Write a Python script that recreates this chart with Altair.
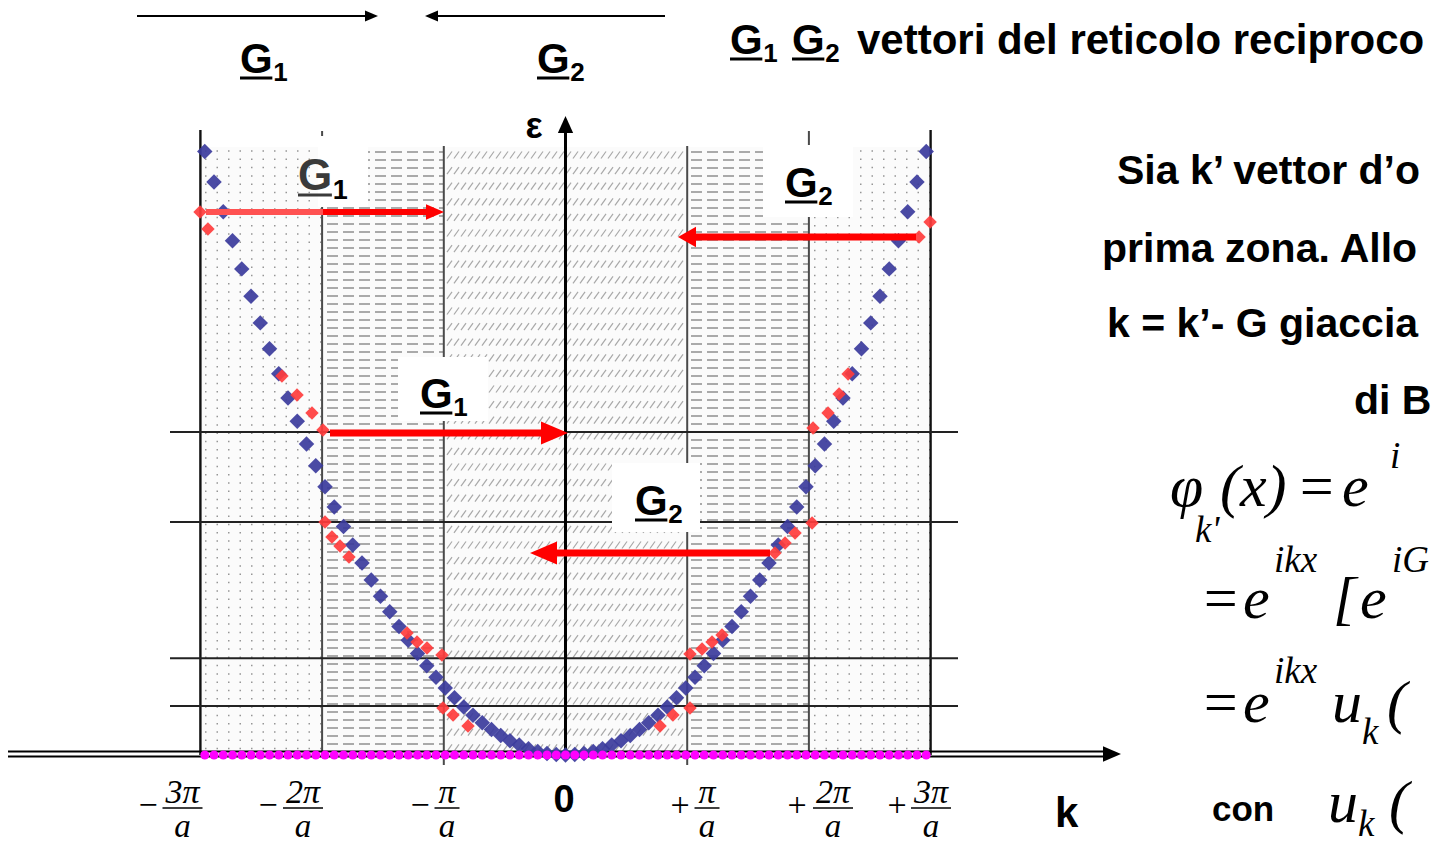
import numpy as np
import pandas as pd
import altair as alt

# ---------------- values ----------------
# wave vector k in units of pi/a (shared by the free-electron parabola and the dots on the k axis)
k_free = [-2.964, -2.888, -2.812, -2.736, -2.660, -2.584, -2.508, -2.432, -2.356, -2.280,
          -2.204, -2.128, -2.052, -1.976, -1.900, -1.824, -1.748, -1.672, -1.596, -1.520,
          -1.444, -1.368, -1.292, -1.216, -1.140, -1.064, -0.988, -0.912, -0.836, -0.760,
          -0.684, -0.608, -0.532, -0.456, -0.380, -0.304, -0.228, -0.152, -0.076, 0.000,
          0.076, 0.152, 0.228, 0.304, 0.380, 0.456, 0.532, 0.608, 0.684, 0.760,
          0.836, 0.912, 0.988, 1.064, 1.140, 1.216, 1.292, 1.368, 1.444, 1.520,
          1.596, 1.672, 1.748, 1.824, 1.900, 1.976, 2.052, 2.128, 2.204, 2.280,
          2.356, 2.432, 2.508, 2.584, 2.660, 2.736, 2.812, 2.888, 2.964]
# energy of the free-electron parabola (blue diamonds)
eps_free = [8.785, 8.341, 7.907, 7.486, 7.076, 6.677, 6.290, 5.915, 5.551, 5.198,
            4.858, 4.528, 4.211, 3.905, 3.610, 3.327, 3.056, 2.796, 2.547, 2.310,
            2.085, 1.871, 1.669, 1.479, 1.300, 1.132, 0.976, 0.832, 0.699, 0.578,
            0.468, 0.370, 0.283, 0.208, 0.144, 0.092, 0.052, 0.023, 0.006, 0.000,
            0.006, 0.023, 0.052, 0.092, 0.144, 0.208, 0.283, 0.370, 0.468, 0.578,
            0.699, 0.832, 0.976, 1.132, 1.300, 1.479, 1.669, 1.871, 2.085, 2.310,
            2.547, 2.796, 3.056, 3.327, 3.610, 3.905, 4.211, 4.528, 4.858, 5.198,
            5.551, 5.915, 6.290, 6.677, 7.076, 7.486, 7.907, 8.341, 8.785]
# band edges near the zone boundaries (red diamonds)
k_band = [-3.003, -2.938, -2.330, -2.206, -2.083, -1.993, -1.976, -1.919, -1.853, -1.779,
          -1.302, -1.220, -1.138, -1.015, -1.007, -0.924, -0.801,
          0.777, 0.883, 1.023, 1.023, 1.122, 1.204, 1.286, 1.721, 1.804, 1.886, 2.026,
          2.034, 2.157, 2.248, 2.322, 2.905, 2.996]
eps_band = [7.904, 7.656, 5.517, 5.240, 4.978, 4.731, 3.392, 3.173, 3.042, 2.882,
            1.776, 1.645, 1.557, 1.456, 0.684, 0.582, 0.422,
            0.422, 0.582, 0.684, 1.470, 1.543, 1.645, 1.747, 2.940, 3.086, 3.231, 3.377,
            4.760, 4.978, 5.255, 5.546, 7.540, 7.758]
zone_edges = [-3, -2, -1, 1, 2, 3]
gap_levels = [4.70, 3.39, 1.41, 0.713]
tick_k = [-3, -2, -1, 1, 2, 3]
tick_num = ["3π", "2π", "π", "π", "2π", "3π"]
tick_sign = ["−", "−", "−", "+", "+", "+"]

# ---------------- layout (page is 1435 x 845) ----------------
W, H = 1435, 845
XC, XS = 565.5, 121.7   # pixel of k=0, pixels per pi/a
YB, YS = 755.0, 68.7    # pixel of eps=0, pixels per energy unit


def kx(px):
    return (px - XC) / XS


def ey(py):
    return (YB - py) / YS


xsc = alt.Scale(domain=[kx(0), kx(W)], nice=False, zero=False)
ysc = alt.Scale(domain=[ey(H), ey(0)], nice=False, zero=False)


def X(f):
    return alt.X(f, type="quantitative", scale=xsc, axis=None)


def Y(f):
    return alt.Y(f, type="quantitative", scale=ysc, axis=None)


def seg_layer(rows, color, width, dash=None, cap="butt"):
    df = pd.DataFrame(rows, columns=["k", "e", "k2", "e2"])
    kw = dict(color=color, strokeWidth=width, strokeCap=cap)
    if dash:
        kw["strokeDash"] = dash
    return alt.Chart(df).mark_rule(**kw).encode(
        x=X("k"), y=Y("e"), x2=alt.X2("k2"), y2=alt.Y2("e2"))


def px_seg(x1, y1, x2, y2):
    return (kx(x1), ey(y1), kx(x2), ey(y2))


def rect_layer(rows, fill):
    df = pd.DataFrame(rows, columns=["k", "e", "k2", "e2"])
    return alt.Chart(df).mark_rect(color=fill, strokeWidth=0).encode(
        x=X("k"), y=Y("e"), x2=alt.X2("k2"), y2=alt.Y2("e2"))


def text_layer(rows, size, font="Liberation Sans", weight="normal", style="normal",
               align="left", color="black"):
    df = pd.DataFrame([(kx(a), ey(b), t) for a, b, t in rows], columns=["k", "e", "t"])
    return alt.Chart(df).mark_text(align=align, baseline="alphabetic", font=font,
                                   fontSize=size, fontWeight=weight, fontStyle=style,
                                   color=color).encode(x=X("k"), y=Y("e"), text=alt.Text("t:N"))


def head_layer(rows, shape, color):
    df = pd.DataFrame([(kx(a), ey(b), s) for a, b, s in rows], columns=["k", "e", "s"])
    return alt.Chart(df).mark_point(shape=shape, filled=True, color=color, opacity=1,
                                    strokeWidth=0).encode(
        x=X("k"), y=Y("e"), size=alt.Size("s:Q", scale=None, legend=None))


RIGHT = "M1,0L-1,-0.85L-1,0.85Z"
LEFT = "M-1,0L1,-0.85L1,0.85Z"
LEFT_WIDE = "M-1,0L1,-1.15L1,1.15Z"
UP = "M0,-1L0.9,1L-0.9,1Z"

layers = []

# zone background
layers.append(rect_layer([(zone_edges[0], 0, zone_edges[-1], ey(147))], "#fbfbfb"))

# textures: dots (outer zones), dashes (second zone), hatch (first zone)
dot_rows = []
for y in np.arange(151, 752, 8.3):
    dot_rows.append(px_seg(205, y, 322, y))
    dot_rows.append(px_seg(814, y, 930, y))
layers.append(seg_layer(dot_rows, "#969696", 1.5, dash=[1.5, 10]))
dash_rows = []
for y in np.arange(152, 752, 8.0):
    dash_rows.append(px_seg(327, y, 443, y))
    dash_rows.append(px_seg(691, y, 808, y))
layers.append(seg_layer(dash_rows, "#aaaaaa", 2, dash=[11, 5]))
hatch = []
for y in np.arange(155, 752, 15.6):
    for x in np.arange(447, 683, 7.0):
        hatch.append(px_seg(x, y + 3.5, x + 5, y - 3.5))
layers.append(seg_layer(hatch, "#a8a8a8", 1.2))

# zone boundaries
zl = []
for z in zone_edges:
    if abs(z) == 3:
        continue
    top = ey(131) if abs(z) == 2 else ey(146)
    bot = ey(765) if abs(z) == 1 else 0
    zl.append((z, bot, z, top))
layers.append(seg_layer(zl, "#4a4a4a", 2))
layers.append(seg_layer([(z, 0, z, ey(130)) for z in zone_edges if abs(z) == 3], "#111111", 2.4))

# energy-gap levels
layers.append(seg_layer([(kx(170), g, kx(958), g) for g in gap_levels], "#222222", 2))

# white boxes behind the labels
layers.append(rect_layer([
    (kx(318), ey(136), kx(368), ey(207)),
    (kx(763), ey(145), kx(853), ey(217)),
    (kx(398), ey(357), kx(488), ey(421)),
    (kx(612), ey(463), kx(700), ey(532)),
], "white"))

# axes
layers.append(seg_layer([px_seg(8, 751.5, 1108, 751.5), px_seg(8, 756.5, 1108, 756.5)], "black", 2))
layers.append(head_layer([(1112, 754, 324)], RIGHT, "black"))
layers.append(seg_layer([(0, ey(757), 0, ey(128))], "black", 3))
layers.append(head_layer([(565.5, 124.5, 289)], UP, "black"))

# data points
blue = pd.DataFrame({"k": k_free, "e": eps_free})
layers.append(alt.Chart(blue).mark_point(shape="diamond", filled=True, size=240, color="#3b3b9c",
                                         opacity=0.92, strokeWidth=0).encode(x=X("k"), y=Y("e")))
mag = pd.DataFrame({"k": k_free, "e": 0.0})
layers.append(alt.Chart(mag).mark_circle(size=80, color="#ff00ff", opacity=1).encode(x=X("k"), y=Y("e")))
red = pd.DataFrame({"k": k_band, "e": eps_band})
layers.append(alt.Chart(red).mark_point(shape="diamond", filled=True, size=180, color="#ff3c3c",
                                        opacity=0.92, strokeWidth=0).encode(x=X("k"), y=Y("e")))

# red G arrows
layers.append(seg_layer([px_seg(206, 212, 323, 212)], "#ff5252", 6))
layers.append(seg_layer([px_seg(323, 212, 428, 212)], "#ff0000", 6))
layers.append(seg_layer([px_seg(916, 237, 694, 237)], "#ff0000", 7))
layers.append(seg_layer([px_seg(330, 433, 544, 433)], "#ff0000", 7))
layers.append(seg_layer([px_seg(770, 553, 555, 553)], "#ff0000", 7))
layers.append(head_layer([(435, 212, 324), (554.5, 433, 729)], RIGHT, "#ff0000"))
layers.append(head_layer([(543.5, 553, 729)], LEFT, "#ff0000"))
layers.append(head_layer([(687, 237, 324)], LEFT_WIDE, "#ff0000"))

# black reciprocal-lattice arrows at the top
layers.append(seg_layer([px_seg(137, 16, 368, 16), px_seg(665, 16, 434, 16)], "black", 2))
layers.append(head_layer([(371.5, 16, 169)], RIGHT, "black"))
layers.append(head_layer([(431.5, 16, 169)], LEFT, "black"))

# underlined G labels with subscripts: (x of G, baseline, subscript, size, colour)
g_labels = [
    (240, 73, "1", 42, "black"),
    (537, 73, "2", 42, "black"),
    (730, 54, "1", 42, "black"),
    (792, 54, "2", 42, "black"),
    (298, 190, "1", 44, "#3a3a3a"),
    (785, 197, "2", 42, "black"),
    (420, 408, "1", 42, "black"),
    (635, 515, "2", 42, "black"),
]
for gx, gb, sub, sz, col in g_labels:
    layers.append(text_layer([(gx, gb, "G")], sz, weight="bold", color=col))
    layers.append(text_layer([(gx + 0.79 * sz, gb + 0.2 * sz, sub)], round(sz * 0.62), weight="bold"))
    layers.append(seg_layer([px_seg(gx, gb + 5, gx + 0.77 * sz, gb + 5)], col, 3))

# title
layers.append(text_layer([(857, 54, "vettori del reticolo reciproco")], 42, weight="bold"))

# right-hand text (cut by the right edge of the slide, as in the picture)
layers.append(text_layer([
    (1117, 184, "Sia k’ vettor d’o"),
    (1102, 262, "prima zona. Allo"),
    (1107, 337, "k = k’- G giaccia"),
    (1354, 414, "di B"),
], 41, weight="bold"))
layers.append(text_layer([(1212, 821, "con")], 35, weight="bold"))

SERIF = "Liberation Serif"
layers.append(text_layer([
    (1170, 506, "φ"), (1220, 506, "(x)"), (1296, 506, "="), (1342, 506, "e"),
    (1200, 618, "="), (1243, 618, "e"), (1333, 618, "["), (1360, 618, "e"),
    (1200, 722, "="), (1243, 722, "e"), (1332, 722, "u"), (1387, 722, "("),
    (1328, 822, "u"), (1389, 822, "("),
], 60, font=SERIF, style="italic"))
layers.append(text_layer([
    (1195, 542, "k'"), (1390, 468, "i"),
    (1274, 572, "ikx"), (1392, 572, "iG"),
    (1274, 683, "ikx"), (1362, 744, "k"),
    (1358, 836, "k"),
], 37, font=SERIF, style="italic"))

# tick labels  -n pi / a
frac_cx = [182.5, 303, 447, 707, 833, 931]
sign_cx = [148, 268, 420, 680, 797, 897]
layers.append(text_layer([(c, 803, t) for c, t in zip(frac_cx, tick_num)], 34, font=SERIF,
                         style="italic", align="center"))
layers.append(text_layer([(c, 837, "a") for c in frac_cx], 33, font=SERIF, style="italic", align="center"))
layers.append(text_layer([(c, 816, s) for c, s in zip(sign_cx, tick_sign)], 34, font=SERIF, align="center"))
bars = []
for c, t in zip(frac_cx, tick_num):
    hw = 20 if len(t) == 2 else 12.5
    bars.append(px_seg(c - hw, 808, c + hw, 808))
layers.append(seg_layer(bars, "black", 1.5))

layers.append(text_layer([(564, 812, "0")], 38, weight="bold", align="center"))
layers.append(text_layer([(1055, 827, "k")], 42, weight="bold"))
layers.append(text_layer([(534, 138, "ε")], 36, weight="bold", align="center"))

chart = alt.layer(*layers).properties(
    width=W, height=H, padding=0, background="white",
    autosize=alt.AutoSizeParams(type="none"),
).configure_view(stroke=None)

chart.save("out.html", embed_options={"renderer": "svg", "actions": False})
